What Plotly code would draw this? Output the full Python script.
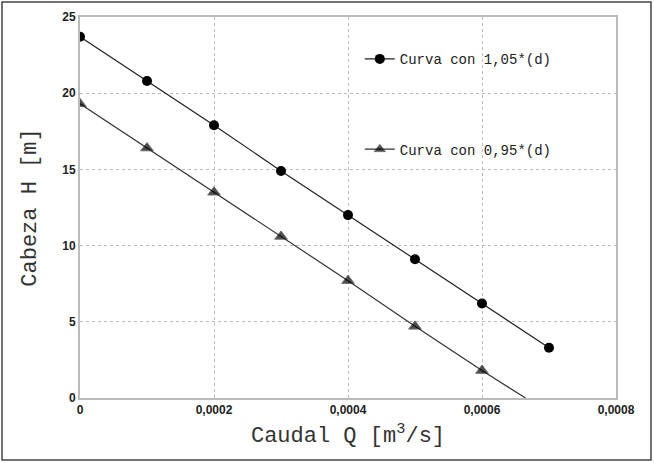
import plotly.graph_objects as go

# Caudal Q [m3/s]
q = [0, 0.0001, 0.0002, 0.0003, 0.0004, 0.0005, 0.0006, 0.0007]
h_105 = [23.7, 20.8, 17.9, 14.9, 12.0, 9.1, 6.2, 3.3]

q_095 = [0, 0.0001, 0.0002, 0.0003, 0.0004, 0.0005, 0.0006, 0.000665]
h_095 = [19.3, 16.4, 13.5, 10.6, 7.7, 4.7, 1.8, 0.0]

x_ticks = [0, 0.0002, 0.0004, 0.0006, 0.0008]
x_tick_text = ["0", "0,0002", "0,0004", "0,0006", "0,0008"]
y_ticks = [0, 5, 10, 15, 20, 25]

mono = "Liberation Mono, Courier New, monospace"
tick_font = dict(family="Liberation Sans, Arial, sans-serif", size=12, color="#222", weight="bold")

fig = go.Figure()
fig.add_trace(go.Scatter(
    x=q, y=h_105, mode="lines+markers", name="Curva con 1,05*(d)",
    line=dict(color="#222", width=1.2),
    marker=dict(symbol="circle", size=10, color="black"),
    legend="legend", showlegend=True,
))
fig.add_trace(go.Scatter(
    x=q_095, y=h_095, mode="lines+markers", name="Curva con 0,95*(d)",
    line=dict(color="#333", width=1.2),
    marker=dict(symbol="triangle-up", size=[11] * (len(q_095) - 1) + [0], color="black"),
    legend="legend2", showlegend=True,
))

axis_common = dict(
    showline=True, linecolor="#bbb", linewidth=2, mirror=True,
    showgrid=True, gridcolor="#bbb", griddash="3px,3px", gridwidth=1,
    zeroline=False, ticks="", tickfont=tick_font, automargin=False,
)

fig.update_layout(
    width=654, height=463,
    margin=dict(l=80, r=38, t=17, b=65),
    paper_bgcolor="white", plot_bgcolor="white",
    showlegend=True,
    xaxis=dict(range=[0, 0.0008], tickvals=x_ticks, ticktext=x_tick_text,
               title=dict(text="Caudal Q [m<sup>3</sup>/s]", font=dict(family=mono, size=22, color="#333"), standoff=10),
               **axis_common),
    yaxis=dict(range=[0, 25], tickvals=y_ticks,
               title=dict(text="Cabeza H [m]", font=dict(family=mono, size=22, color="#333"), standoff=20),
               **axis_common),
    legend=dict(x=0.522, y=0.889, xanchor="left", yanchor="middle", bgcolor="rgba(0,0,0,0)",
                font=dict(family=mono, size=14, color="#222"), itemwidth=30),
    legend2=dict(x=0.522, y=0.652, xanchor="left", yanchor="middle", bgcolor="rgba(0,0,0,0)",
                 font=dict(family=mono, size=14, color="#222"), itemwidth=30),
    shapes=[dict(type="rect", xref="paper", yref="paper",
                 x0=-0.1455, x1=1.0653, y0=-0.1627, y1=1.0394,
                 line=dict(color="#444", width=1.5))],
)

fig.write_html("out.html", config={"displayModeBar": False},
               post_script="document.body.style.margin='0';document.body.style.overflow='hidden';")
